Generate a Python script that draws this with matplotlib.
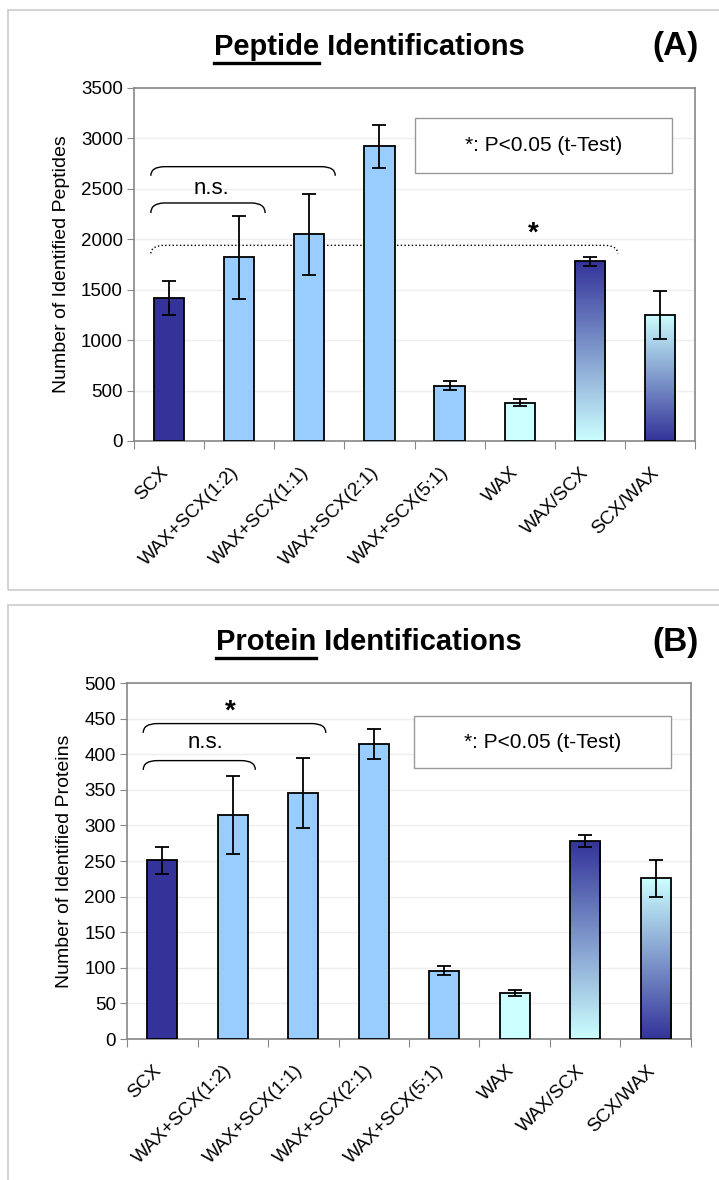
import numpy as np
import matplotlib
matplotlib.use("Agg")
import matplotlib.pyplot as plt
from matplotlib.path import Path
from matplotlib.patches import PathPatch, Rectangle
from matplotlib.colors import LinearSegmentedColormap

plt.rcParams['font.family'] = ['Liberation Sans', 'DejaVu Sans']

# Data
categories = ["SCX", "WAX+SCX(1:2)", "WAX+SCX(1:1)", "WAX+SCX(2:1)",
              "WAX+SCX(5:1)", "WAX", "WAX/SCX", "SCX/WAX"]
peptides = [1420, 1820, 2050, 2920, 550, 380, 1780, 1250]
peptides_err = [170, 410, 400, 210, 45, 35, 45, 235]
proteins = [251, 315, 346, 414, 96, 65, 278, 226]
proteins_err = [19, 55, 49, 21, 6, 4, 8, 26]

NAVY = "#333399"
LIGHT = "#99CCFF"
CYAN = "#CCFFFF"
fills = [NAVY, LIGHT, LIGHT, LIGHT, LIGHT, CYAN, "grad_down", "grad_up"]

fig = plt.figure(figsize=(7.19, 11.8), dpi=100)

# panel frames
fig.add_artist(Rectangle((8 / 719, 1 - 590 / 1180), 1.0, 580 / 1180,
                         transform=fig.transFigure, fill=False,
                         edgecolor="#cccccc", lw=1.2))
fig.add_artist(Rectangle((8 / 719, -0.05), 1.0, 1 - 605 / 1180 + 0.05,
                         transform=fig.transFigure, fill=False,
                         edgecolor="#cccccc", lw=1.2))


def bracket(ax, x0, x1, ytop, yend, dx, ls="-"):
	verts = [(x0, yend), (x0, ytop), (x0 + dx, ytop),
	         (x1 - dx, ytop), (x1, ytop), (x1, yend)]
	codes = [Path.MOVETO, Path.CURVE3, Path.CURVE3,
	         Path.LINETO, Path.CURVE3, Path.CURVE3]
	ax.add_patch(PathPatch(Path(verts, codes), fill=False, lw=1.0,
	                       ls=ls, edgecolor="black"))


def legend_box(ax, x0, x1, y0, y1):
	ax.add_patch(Rectangle((x0, y0), x1 - x0, y1 - y0, transform=ax.transAxes,
	                       fc="white", ec="#999999", lw=1.0, zorder=5))
	ax.text((x0 + x1) / 2, (y0 + y1) / 2, "*: P<0.05 (t-Test)",
	        transform=ax.transAxes, fontsize=15, ha="center", va="center", zorder=6)


def draw_panel(rect, values, errs, ymax, ystep, ylabel, title_bold, letter, title_y):
	ax = fig.add_axes(rect)
	x = np.arange(len(categories))
	w = 0.43
	bars = ax.bar(x, values, w, color="white", edgecolor="black", lw=1.3, zorder=3)
	grad = np.linspace(0, 1, 256).reshape(-1, 1)
	cmap = LinearSegmentedColormap.from_list("g", [CYAN, NAVY])
	for b, f in zip(bars, fills):
		if f.startswith("grad"):
			img = grad if f == "grad_down" else grad[::-1]
			im = ax.imshow(img, cmap=cmap, aspect="auto", origin="lower",
			               extent=(b.get_x(), b.get_x() + w, 0, b.get_height()),
			               zorder=2.5)
			im.set_clip_path(b)
			b.set_facecolor("none")
		else:
			b.set_facecolor(f)
	ax.errorbar(x, values, yerr=errs, fmt="none", ecolor="black",
	            elinewidth=1.3, capsize=5, capthick=1.3, zorder=4)
	ax.set_xlim(-0.5, len(categories) - 0.5)
	ax.set_ylim(0, ymax)
	ax.set_yticks(np.arange(0, ymax + 1, ystep))
	ax.yaxis.grid(True, color="#eeeeee", lw=1)
	ax.set_axisbelow(True)
	for s in ax.spines.values():
		s.set_color("#888888")
		s.set_linewidth(1.2)
	ax.set_xticks(np.arange(len(categories) + 1) - 0.5)
	ax.set_xticklabels([])
	ax.set_xticks(x - 0.05, minor=True)
	ax.set_xticklabels(categories, minor=True, rotation=45, ha="right", va="center",
	                   rotation_mode="anchor", fontsize=13.7)
	ax.tick_params(axis="x", which="major", length=6, color="#888888")
	ax.tick_params(axis="x", which="minor", length=0, pad=21)
	ax.tick_params(axis="y", length=5, color="#888888", labelsize=13.5, pad=3)
	ax.set_ylabel(ylabel, fontsize=14, labelpad=8)
	# title with underlined first word
	fam = ["Liberation Sans Narrow", "Liberation Sans"]
	t1 = fig.text(0.0, title_y, title_bold, fontsize=21, fontweight="bold",
	              family=fam, va="center")
	fig.canvas.draw()
	r = fig.canvas.get_renderer()
	bb1 = t1.get_window_extent(r)
	t2 = fig.text(0, title_y, " Identifications", fontsize=21, fontweight="bold",
	              family=fam, va="center")
	bb2 = t2.get_window_extent(r)
	total = bb1.width + bb2.width
	cx = 369
	x0 = cx - total / 2
	t1.set_x(x0 / 719)
	t2.set_x((x0 + bb1.width) / 719)
	uy = title_y - 16 / 1180
	fig.add_artist(plt.Line2D([x0 / 719, (x0 + bb1.width) / 719], [uy, uy],
	                          color="black", lw=2.4, transform=fig.transFigure))
	fig.text(676 / 719, title_y, letter, fontsize=24, fontweight="bold",
	         family=fam, ha="center", va="center")
	return ax


axA = draw_panel([134 / 719, 1 - 441 / 1180, 561 / 719, 353 / 1180],
                 peptides, peptides_err, 3500, 500,
                 "Number of Identified Peptides", "Peptide", "(A)", 1 - 47 / 1180)
bracket(axA, -0.26, 1.37, 2360, 2260, 0.2)
bracket(axA, -0.26, 2.37, 2720, 2630, 0.2)
axA.text(0.61, 2500, "n.s.", fontsize=16, ha="center", va="center")
bracket(axA, -0.26, 6.4, 1940, 1860, 0.2, ls=":")
axA.text(5.19, 2060, "*", fontsize=20, fontweight="bold", ha="center", va="center")
legend_box(axA, 0.50, 0.959, 0.76, 0.915)

axB = draw_panel([127 / 719, 1 - 1039 / 1180, 564 / 719, 356 / 1180],
                 proteins, proteins_err, 500, 50,
                 "Number of Identified Proteins", "Protein", "(B)", 1 - 642 / 1180)
bracket(axB, -0.27, 1.32, 391, 378, 0.2)
bracket(axB, -0.27, 2.32, 443, 430, 0.2)
axB.text(0.61, 417, "n.s.", fontsize=16, ha="center", va="center")
axB.text(0.97, 460, "*", fontsize=20, fontweight="bold", ha="center", va="center")
legend_box(axB, 0.509, 0.965, 0.761, 0.907)

fig.savefig("out.png", dpi=100)
